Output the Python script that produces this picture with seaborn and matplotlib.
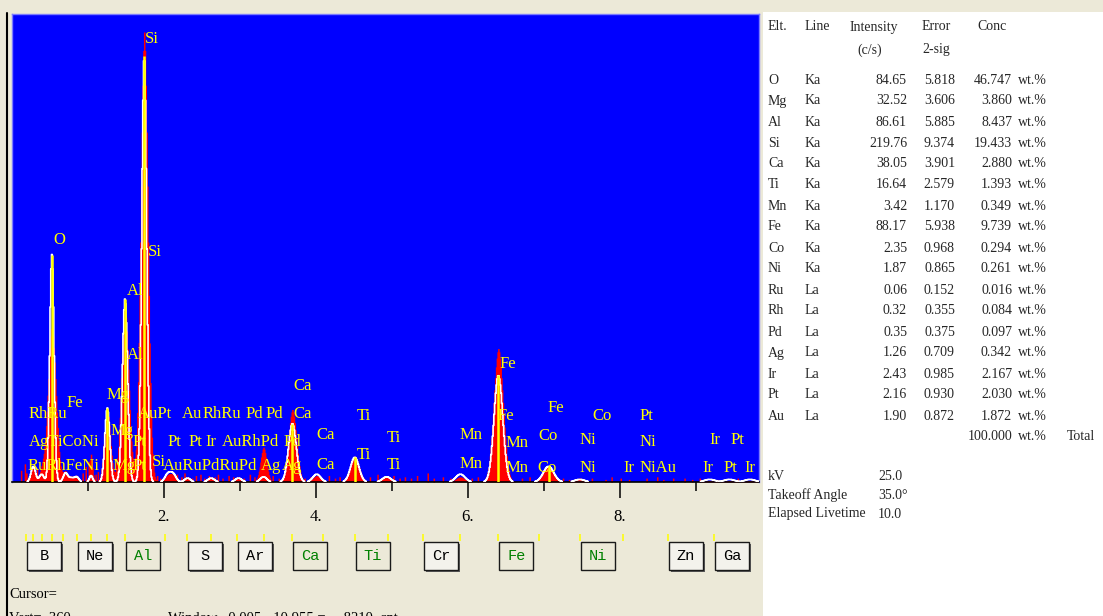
import numpy as np
import pandas as pd
import matplotlib
matplotlib.use("Agg")
import matplotlib.pyplot as plt
from matplotlib.patches import Rectangle
import seaborn as sns

# ---------------- spectrum lines: energy (keV), fitted / measured counts and FWHM (keV)
line_kev = [0.28, 0.39, 0.525, 0.705, 0.78, 0.85, 1.04, 1.254, 1.487, 1.740,
            2.05, 2.12, 2.31, 2.62, 2.98, 3.31, 3.69, 4.01, 4.51, 4.93,
            5.90, 6.40, 7.06, 7.47, 9.18, 9.44, 9.71]
fit_counts = [12, 6, 175, 7, 3, 4, 5, 57, 141, 328,
              6, 6, 3, 3, 3, 4, 45, 6, 19, 4,
              6, 82, 12, 2, 2, 2, 2]
fit_fwhm = [0.07, 0.07, 0.065, 0.07, 0.07, 0.07, 0.05, 0.075, 0.08, 0.075,
            0.09, 0.09, 0.09, 0.10, 0.10, 0.10, 0.12, 0.12, 0.13, 0.13,
            0.14, 0.136, 0.16, 0.15, 0.16, 0.16, 0.16]
meas_counts = [13, 8, 120, 8, 4, 5, 22, 57, 135, 348,
               5, 5, 4, 4, 4, 27, 56, 5, 20, 4,
               4, 103, 12, 3, 1, 1, 1]
meas_fwhm = [0.07, 0.07, 0.13, 0.07, 0.07, 0.07, 0.05, 0.10, 0.12, 0.115,
             0.09, 0.09, 0.09, 0.10, 0.10, 0.10, 0.13, 0.12, 0.14, 0.13,
             0.14, 0.15, 0.16, 0.15, 0.16, 0.16, 0.16]

# single-channel counts sitting on the baseline
noise_kev = [0.12, 0.16, 0.19, 0.33, 0.36, 0.44, 0.62, 0.66, 0.93, 0.97,
             1.00, 1.09, 1.12, 1.36, 1.40, 1.62, 1.90, 1.95, 2.17, 2.22,
             2.27, 2.36, 2.41, 2.47, 2.53, 2.58, 2.66, 2.71, 2.77, 2.84,
             2.90, 3.05, 3.12, 3.18, 3.24, 3.43, 3.50, 3.84, 3.93, 4.17,
             4.25, 4.31, 4.38, 4.70, 4.80, 4.88, 5.02, 5.10, 5.17, 5.25,
             5.33, 5.47, 5.55, 5.66, 5.76, 6.05, 6.13, 6.22, 6.70, 6.80,
             7.25, 7.33, 7.62, 7.80, 7.88, 8.00, 8.12, 8.35, 8.48, 8.57,
             8.70, 8.85, 8.95, 9.05, 9.28, 9.55, 9.78]
noise_counts = [9, 14, 7, 10, 8, 6, 5, 4, 7, 12,
                16, 6, 8, 15, 10, 4, 5, 3, 6, 4,
                7, 3, 5, 6, 3, 5, 4, 6, 3, 5,
                4, 3, 6, 4, 3, 5, 3, 3, 4, 5,
                3, 4, 3, 4, 6, 3, 5, 3, 4, 3,
                5, 7, 3, 4, 3, 3, 4, 3, 3, 4,
                3, 2, 3, 2, 4, 3, 2, 3, 4, 2,
                3, 3, 2, 3, 2, 3, 2]

# KLM marker lines (indices into the line list): O, Mg, Al, Si, Ca, Ti, Fe, Fe Kb
marker_idx = [2, 7, 8, 9, 16, 18, 21, 22]

# marker labels: text, energy (keV), counts
label_text = ["Si", "O", "Si", "Al", "Al", "Mg", "Fe", "Ca",
              "RhRu", "AuPt", "Au", "RhRu", "Pd", "Pd", "Ca", "Ti",
              "AgTiCoNi", "Mg", "Pt", "Pt", "Pt", "Ir", "AuRhPd", "Pd", "Ca", "Ti", "Ti",
              "RuRhFeNi", "Mg", "Pt", "Si", "AuRuPdRuPd", "Ag", "Ag", "Ca", "Ti",
              "Fe", "Fe", "Fe", "Co", "Pt", "Mn", "Mn", "Co", "Ni", "Ni", "Ir", "Pt",
              "Mn", "Mn", "Co", "Ni", "Ir", "NiAu", "Ir", "Pt", "Ir"]
label_kev = [1.75, 0.54, 1.79, 1.51, 1.51, 1.25, 0.72, 3.70,
             0.22, 1.66, 2.24, 2.51, 3.07, 3.33, 3.70, 4.54,
             0.22, 1.29, 1.59, 2.05, 2.32, 2.54, 2.76, 3.57, 4.01, 4.93, 4.54,
             0.20, 1.32, 1.59, 1.84, 1.99, 3.27, 3.55, 4.01, 4.93,
             6.41, 6.39, 7.05, 7.64, 8.26, 5.89, 6.50, 6.92, 7.47, 8.26, 9.17, 9.45,
             5.89, 6.50, 6.91, 7.47, 8.04, 8.26, 9.09, 9.36, 9.64]
label_counts = [341, 186, 177, 147, 98, 67, 61, 74,
                52, 52, 52, 52, 52, 52, 52, 51,
                31, 39, 31, 31, 31, 31, 31, 31, 36, 34, 21,
                12, 12, 12, 15, 12, 12, 12, 13, 13,
                91, 51, 57, 51, 51, 36, 30, 35, 32, 31, 32, 32,
                14, 11, 11, 11, 11, 11, 11, 11, 11]

# x axis
tick_kev = [2, 4, 6, 8]
tick_text = ["2.", "4.", "6.", "8."]
minor_kev = [1, 3, 5, 7, 9]

# periodic-table buttons: symbol, Ka energy, selected
button_sym = ["B", "Ne", "Al", "S", "Ar", "Ca", "Ti", "Cr", "Fe", "Ni", "Zn", "Ga"]
button_kev = [0.183, 0.849, 1.487, 2.307, 2.957, 3.690, 4.510, 5.414, 6.398, 7.471, 8.630, 9.241]
button_on = [False, False, True, False, False, True, True, False, True, True, False, False]
ka_kev = [0.183, 0.277, 0.392, 0.525, 0.677, 0.849, 1.041, 1.254, 1.487, 2.013,
          2.307, 2.622, 2.957, 3.313, 3.690, 4.090, 4.510, 4.952, 5.414, 5.898,
          6.398, 6.930, 7.471, 8.040, 8.630, 9.241]

# quantification table
elements = ["O", "Mg", "Al", "Si", "Ca", "Ti", "Mn", "Fe", "Co", "Ni",
            "Ru", "Rh", "Pd", "Ag", "Ir", "Pt", "Au"]
lines = ["Ka"] * 10 + ["La"] * 7
intensity = [84.65, 32.52, 86.61, 219.76, 38.05, 16.64, 3.42, 88.17, 2.35, 1.87,
             0.06, 0.32, 0.35, 1.26, 2.43, 2.16, 1.90]
error2sig = [5.818, 3.606, 5.885, 9.374, 3.901, 2.579, 1.170, 5.938, 0.968, 0.865,
             0.152, 0.355, 0.375, 0.709, 0.985, 0.930, 0.872]
conc = [46.747, 3.860, 8.437, 19.433, 2.880, 1.393, 0.349, 9.739, 0.294, 0.261,
        0.016, 0.084, 0.097, 0.342, 2.167, 2.030, 1.872]
total_conc = 100.000
acq_names = ["kV", "Takeoff Angle", "Elapsed Livetime"]
acq_values = ["25.0", "35.0\u00b0", "10.0"]

# ---------------- build channel data
chan_w = 0.01
energy = np.arange(chan_w / 2, 9.84, chan_w)


def peaks(heights, widths):
    out = np.zeros_like(energy)
    for e0, h, fw in zip(line_kev, heights, widths):
        out += h * np.exp(-4 * np.log(2) * (energy - e0) ** 2 / fw ** 2)
    return out


measured = peaks(meas_counts, meas_fwhm)
for e0, h in zip(noise_kev, noise_counts):
    i = int(round((e0 - chan_w / 2) / chan_w))
    measured[i:i + 2] = np.maximum(measured[i:i + 2], h)
fitted = peaks(fit_counts, fit_fwhm)
fitted_shown = np.where(fitted < 0.4, -6.0, fitted)

spec = pd.DataFrame({"energy": energy, "measured": measured, "fitted": fitted_shown})

# ---------------- figure
sns.set_style("white")
plt.rcParams["font.family"] = ["Liberation Serif", "DejaVu Sans"]

W, H = 1103, 616
BEIGE = "#ECE9D8"
fig = plt.figure(figsize=(W / 100, H / 100), dpi=100, facecolor=BEIGE)


def fx(x):
    return x / W


def fy(y):
    return 1 - y / H


# window frame
fig.add_artist(Rectangle((fx(763), 0), fx(W - 763), fy(12), transform=fig.transFigure,
                         facecolor="white", edgecolor="none", zorder=0))
fig.add_artist(plt.Line2D([fx(6.5), fx(6.5)], [0, fy(13)], transform=fig.transFigure,
                          color="black", linewidth=1.5))

KEV_MAX = (759 - 12) / 76
ax = fig.add_axes([fx(12), fy(482), fx(759 - 12), (482 - 14) / H])
ax.set_facecolor("#0000FF")

sns.histplot(data=spec, x="energy", weights="measured", binwidth=chan_w,
             binrange=(0, len(energy) * chan_w), element="step",
             fill=True, color="#FF0000", alpha=1, linewidth=0, ax=ax, zorder=2)
sns.lineplot(data=spec, x="energy", y="fitted", drawstyle="steps-mid", color="white",
             linewidth=1.2, estimator=None, errorbar=None, ax=ax, zorder=3)
ax.vlines([line_kev[i] for i in marker_idx], 0, [fit_counts[i] for i in marker_idx],
          colors="#FFFF00", linewidth=1.8, zorder=4)

for t, e, c in zip(label_text, label_kev, label_counts):
    ax.text(e, c, t, color="#FFFF00", fontsize=12, ha="left", va="center",
            zorder=5, clip_on=True)

ax.set_xlim(0, KEV_MAX)
ax.set_ylim(0, 360)
ax.set_xlabel("")
ax.set_ylabel("")
ax.set_yticks([])
ax.set_xticks(tick_kev)
ax.set_xticklabels(tick_text, fontsize=12, color="black")
ax.set_xticks(minor_kev, minor=True)
ax.tick_params(axis="x", which="major", direction="out", length=11.5, width=1.1,
               color="black", pad=8, bottom=True)
ax.tick_params(axis="x", which="minor", direction="out", length=6.5, width=1.1,
               color="black", bottom=True)
for side in ["top", "left", "right"]:
    ax.spines[side].set_color("#7B7BFF")
    ax.spines[side].set_linewidth(1.0)
ax.spines["bottom"].set_color("black")
ax.spines["bottom"].set_linewidth(1.2)

# element button tray
tray = fig.add_axes([fx(12), fy(576), fx(759 - 12), (576 - 530) / H])
tray.set_xlim(0, KEV_MAX)
tray.set_ylim(576, 530)
tray.axis("off")
tray.vlines(ka_kev, 534, 541, colors="#FFFF00", linewidth=1.1)
bw = 34 / 76
for s, e, on in zip(button_sym, button_kev, button_on):
    x0 = e + 1 / 76
    if on:
        tray.add_patch(Rectangle((x0, 542), bw, 28, facecolor=BEIGE,
                                 edgecolor="#1A1A1A", linewidth=1.0))
        col = "#008000"
    else:
        tray.add_patch(Rectangle((x0 + 2 / 76, 544), bw, 28, facecolor="#5A5A5A",
                                 edgecolor="none"))
        tray.add_patch(Rectangle((x0, 542), bw, 28, facecolor="#F3F2EC",
                                 edgecolor="#1A1A1A", linewidth=1.0))
        col = "black"
    tray.text(x0 + bw / 2, 556.5, s, color=col, fontsize=11, ha="center", va="center",
              family=["Liberation Mono", "DejaVu Sans Mono"])

# status lines
fig.text(fx(9), fy(594), "Cursor=", fontsize=10.5, va="center", color="black")
fig.text(fx(9), fy(619), "Vert=  360", fontsize=10.5, va="center", color="black")
fig.text(fx(168), fy(619), "Window   0.005 - 10.955 =     8210  cnt", fontsize=10.5,
         va="center", color="black")

# quantification table
TF = 10
fig.text(fx(768), fy(27), "Elt.", fontsize=TF, va="center")
fig.text(fx(805), fy(27), "Line", fontsize=TF, va="center")
fig.text(fx(850), fy(27), "Intensity", fontsize=TF, va="center")
fig.text(fx(922), fy(27), "Error", fontsize=TF, va="center")
fig.text(fx(977), fy(27), "Conc", fontsize=TF, va="center")
fig.text(fx(857), fy(50), "(c/s)", fontsize=TF, va="center")
fig.text(fx(922), fy(50), "2-sig", fontsize=TF, va="center")
row0, step = 80, 21.0
for k, (el, ln, it, er, cc) in enumerate(zip(elements, lines, intensity, error2sig, conc)):
    y = fy(row0 + k * step)
    fig.text(fx(768), y, el, fontsize=TF, va="center")
    fig.text(fx(805), y, ln, fontsize=TF, va="center")
    fig.text(fx(907), y, f"{it:.2f}", fontsize=TF, va="center", ha="right")
    fig.text(fx(955), y, f"{er:.3f}", fontsize=TF, va="center", ha="right")
    fig.text(fx(1012), y, f"{cc:.3f}", fontsize=TF, va="center", ha="right")
    fig.text(fx(1018), y, "wt.%", fontsize=TF, va="center")
yt = fy(row0 + len(elements) * step)
fig.text(fx(1012), yt, f"{total_conc:.3f}", fontsize=TF, va="center", ha="right")
fig.text(fx(1018), yt, "wt.%", fontsize=TF, va="center")
fig.text(fx(1067), yt, "Total", fontsize=TF, va="center")

for k, (nm, vl) in enumerate(zip(acq_names, acq_values)):
    y = fy(477 + k * 18.5)
    fig.text(fx(768), y, nm, fontsize=TF, va="center")
    fig.text(fx(878), y, vl, fontsize=TF, va="center")

fig.savefig("out.png", dpi=100, facecolor=BEIGE)
